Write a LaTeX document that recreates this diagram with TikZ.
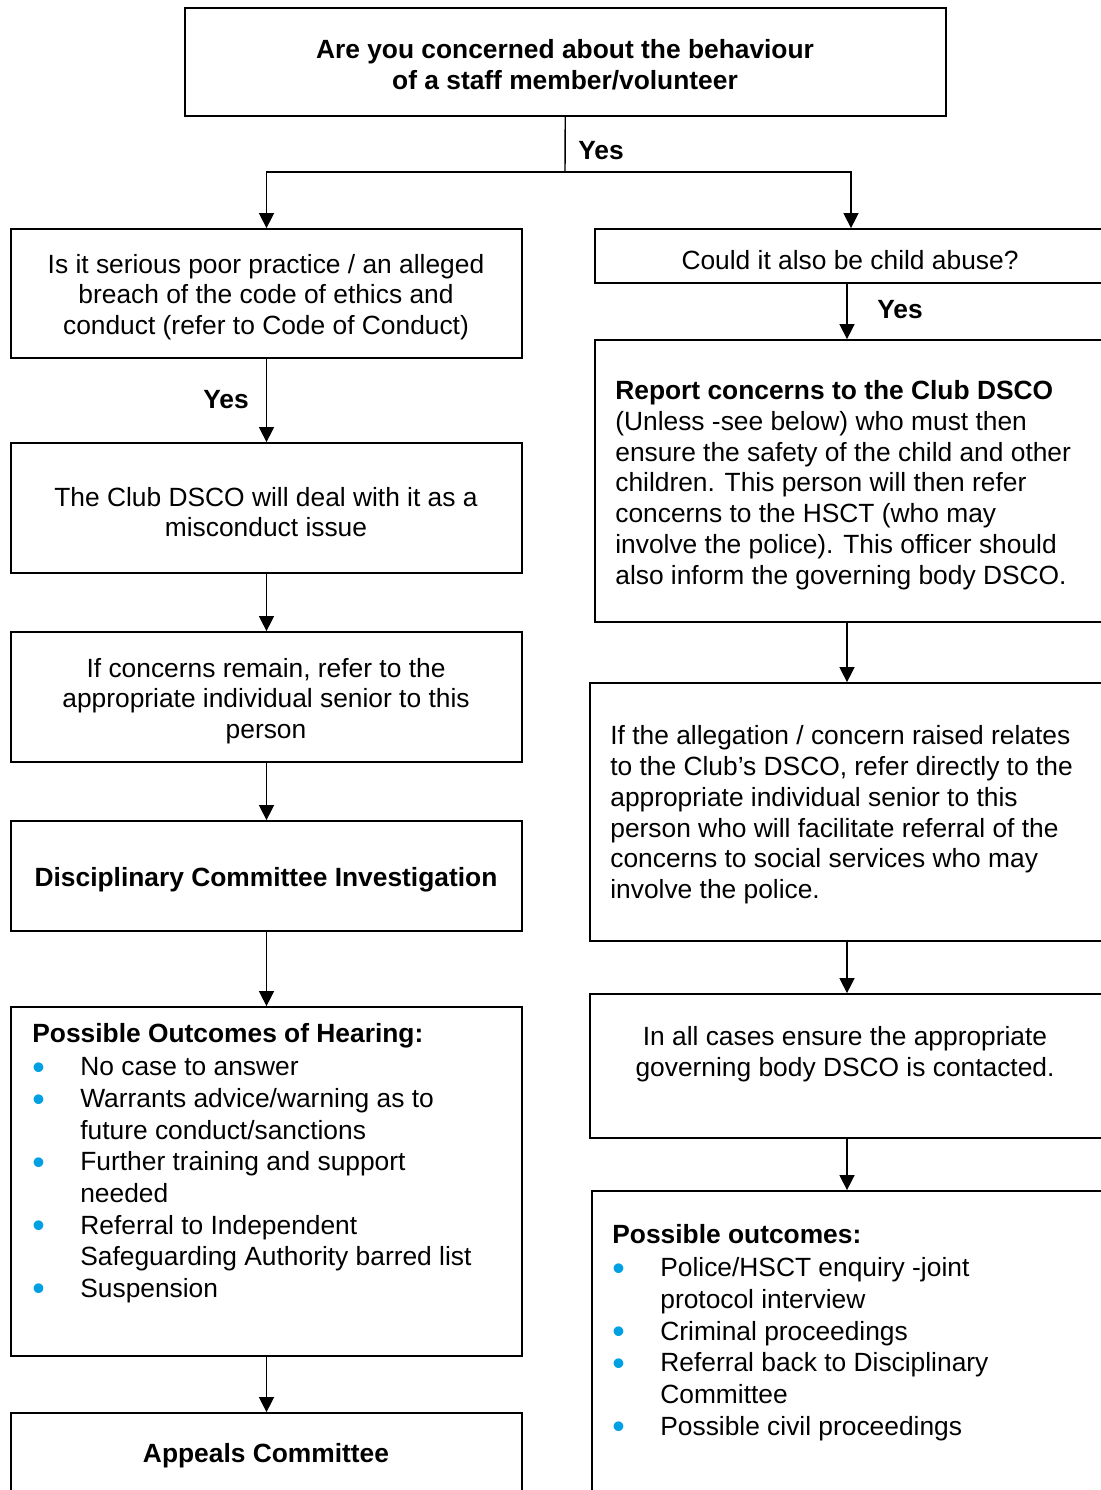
\documentclass[tikz,border=0pt]{standalone}
\usepackage{fontspec}
\setmainfont{Liberation Sans}
\usetikzlibrary{arrows.meta,fit}
\definecolor{bulletblue}{RGB}{0,160,227}
\newcommand{\bul}{\textcolor{bulletblue}{\smash{\raisebox{-2pt}{\scalebox{1.35}{\textbullet}}}}}
\tikzset{
  box/.style={draw, line width=1pt, inner sep=0pt},
  txt/.style={inner sep=0pt, align=center},
  lst/.style={inner sep=0pt, anchor=base west, font=\fontsize{15}{18}\selectfont},
  arr/.style={-{Triangle[length=8.5pt,width=8.5pt]}, line width=0.8pt},
  lbl/.style={inner sep=0pt, font=\fontsize{15}{17.5}\selectfont\bfseries}
}
\begin{document}
\begin{tikzpicture}[x=0.02cm, y=-0.02cm, font=\fontsize{15}{17.5}\selectfont]
  \useasboundingbox (0,0) rectangle (1100,1490);
  \node[box, fit={(185,8) (946,116)}] (concern) {};
  \node[box, fit={(11,229) (522,358)}] (poor) {};
  \node[box, fit={(11,443) (522,573)}] (misconduct) {};
  \node[box, fit={(11,632) (522,762)}] (senior) {};
  \node[box, fit={(11,821) (522,931)}] (investigate) {};
  \node[box, fit={(11,1007) (522,1356)}] (hearing) {};
  \node[box, fit={(11,1413) (522,1520)}] (appeals) {};
  \node[box, fit={(595,229) (1110,283)}] (abuse) {};
  \node[box, fit={(595,340) (1110,622)}] (report) {};
  \node[box, fit={(590,683) (1110,941)}] (direct) {};
  \node[box, fit={(590,994) (1110,1138)}] (contact) {};
  \node[box, fit={(592,1191) (1110,1520)}] (outcomes) {};

  \node[txt] (concerntxt) at (565,65)
    {\textbf{Are you concerned about the behaviour}\\\textbf{of a staff member/volunteer}};
  \node[txt] (poortxt) at (266,297)
    {Is it serious poor practice / an alleged\\breach of the code of ethics and\\conduct (refer to Code of Conduct)};
  \node[txt] (misconducttxt) at (266,512)
    {The Club DSCO will deal with it as a\\misconduct issue};
  \node[txt] (seniortxt) at (266,701)
    {If concerns remain, refer to the\\appropriate individual senior to this\\person};
  \node[txt] (investigatetxt) at (266,880) {\textbf{Disciplinary Committee Investigation}};
  \node[txt] (appealstxt) at (266,1456) {\textbf{Appeals Committee}};
  \node[txt] (abusetxt) at (850,260) {Could it also be child abuse?};
  \node[txt] (contacttxt) at (845,1054)
    {In all cases ensure the appropriate\\governing body DSCO is contacted.};
  \node[txt, anchor=west, align=left] (reporttxt) at (615,485)
    {\textbf{Report concerns to the Club DSCO}\\(Unless -see below) who must then\\ensure the safety of the child and other\\children. This person will then refer\\concerns to the HSCT (who may\\involve the police). This officer should\\also inform the governing body DSCO.};
  \node[txt, anchor=west, align=left] (directtxt) at (610,815)
    {If the allegation / concern raised relates\\to the Club’s DSCO, refer directly to the\\appropriate individual senior to this\\person who will facilitate referral of the\\concerns to social services who may\\involve the police.};
  \node[lst] (hearingtxt) at (32,1042)
    {\begin{tabular}[t]{@{}p{0.96cm}@{}l@{}}
      \multicolumn{2}{@{}l@{}}{\textbf{Possible Outcomes of Hearing:}}\\[1.3pt]
      \bul & No case to answer\\
      \bul & Warrants advice/warning as to\\
           & future conduct/sanctions\\
      \bul & Further training and support\\
           & needed\\
      \bul & Referral to Independent\\
           & Safeguarding Authority barred list\\
      \bul & Suspension
    \end{tabular}};
  \node[lst] (outcomestxt) at (612,1243)
    {\begin{tabular}[t]{@{}p{0.96cm}@{}l@{}}
      \multicolumn{2}{@{}l@{}}{\textbf{Possible outcomes:}}\\[1.3pt]
      \bul & Police/HSCT enquiry -joint\\
           & protocol interview\\
      \bul & Criminal proceedings\\
      \bul & Referral back to Disciplinary\\
           & Committee\\
      \bul & Possible civil proceedings
    \end{tabular}};

  \coordinate (split) at (565,172);
  \coordinate (rcol) at (847,0);
  \node[lbl, anchor=west] (yes1) at (578,151) {Yes};
  \node[lbl] (yes2) at (226,400) {Yes};
  \node[lbl, anchor=west] (yes3) at (877,310) {Yes};

  \draw[line width=0.8pt] (concern) -- (split);
  \begin{scope}[arr]
    \draw (split) -| (poor.north);
    \draw (split) -| (abuse.north -| 851,0);
    \draw (poor) -- (misconduct);
    \draw (misconduct) -- (senior);
    \draw (senior) -- (investigate);
    \draw (investigate) -- (hearing);
    \draw (hearing) -- (appeals);
    \draw (abuse.south -| rcol) -- (report.north -| rcol);
    \draw (report.south -| rcol) -- (direct.north -| rcol);
    \draw (direct.south -| rcol) -- (contact.north -| rcol);
    \draw (contact.south -| rcol) -- (outcomes.north -| rcol);
  \end{scope}
\end{tikzpicture}
\end{document}
